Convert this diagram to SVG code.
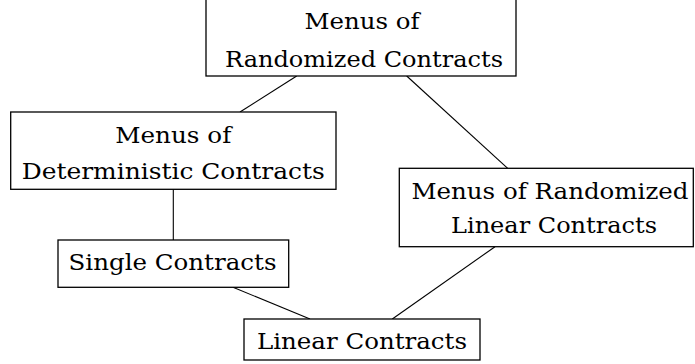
<svg xmlns="http://www.w3.org/2000/svg" width="695" height="364" viewBox="0 0 695 364">
<style>
.box{fill:#fff;stroke:#000;stroke-width:1.3}
.t{font-family:'DejaVu Serif','Liberation Serif',serif;font-size:22px;fill:#000;text-anchor:middle}
.e{stroke:#000;stroke-width:1.1;fill:none}
</style>
<rect width="695" height="364" fill="#fff"/>
<g id="edges">
<line class="e" x1="296.7" y1="76" x2="240" y2="112"/>
<line class="e" x1="406.7" y1="76" x2="507.7" y2="168.3"/>
<line class="e" x1="173.3" y1="189.3" x2="173.3" y2="240"/>
<line class="e" x1="233" y1="287.3" x2="310" y2="319"/>
<line class="e" x1="392.3" y1="319" x2="495" y2="246.7"/>
</g>
<g id="n-menus-randomized">
<rect class="box" x="206" y="-2" width="310" height="78"/>
<text class="t" x="362" y="29.3" textLength="115" lengthAdjust="spacingAndGlyphs">Menus of</text>
<text class="t" x="364" y="66.7" textLength="278" lengthAdjust="spacingAndGlyphs">Randomized Contracts</text>
</g>
<g id="n-menus-deterministic">
<rect class="box" x="10.7" y="112" width="325.3" height="77.3"/>
<text class="t" x="173.3" y="143.3" textLength="116" lengthAdjust="spacingAndGlyphs">Menus of</text>
<text class="t" x="173.3" y="179" textLength="303" lengthAdjust="spacingAndGlyphs">Deterministic Contracts</text>
</g>
<g id="n-menus-randomized-linear">
<rect class="box" x="399.3" y="168.3" width="294" height="78.4"/>
<text class="t" x="550" y="199.3" textLength="277" lengthAdjust="spacingAndGlyphs">Menus of Randomized</text>
<text class="t" x="554" y="233.3" textLength="206" lengthAdjust="spacingAndGlyphs">Linear Contracts</text>
</g>
<g id="n-single">
<rect class="box" x="58" y="240" width="230.7" height="47.3"/>
<text class="t" x="172.5" y="270" textLength="208" lengthAdjust="spacingAndGlyphs">Single Contracts</text>
</g>
<g id="n-linear">
<rect class="box" x="244" y="319" width="236" height="41"/>
<text class="t" x="362" y="349" textLength="210" lengthAdjust="spacingAndGlyphs">Linear Contracts</text>
</g>
</svg>
